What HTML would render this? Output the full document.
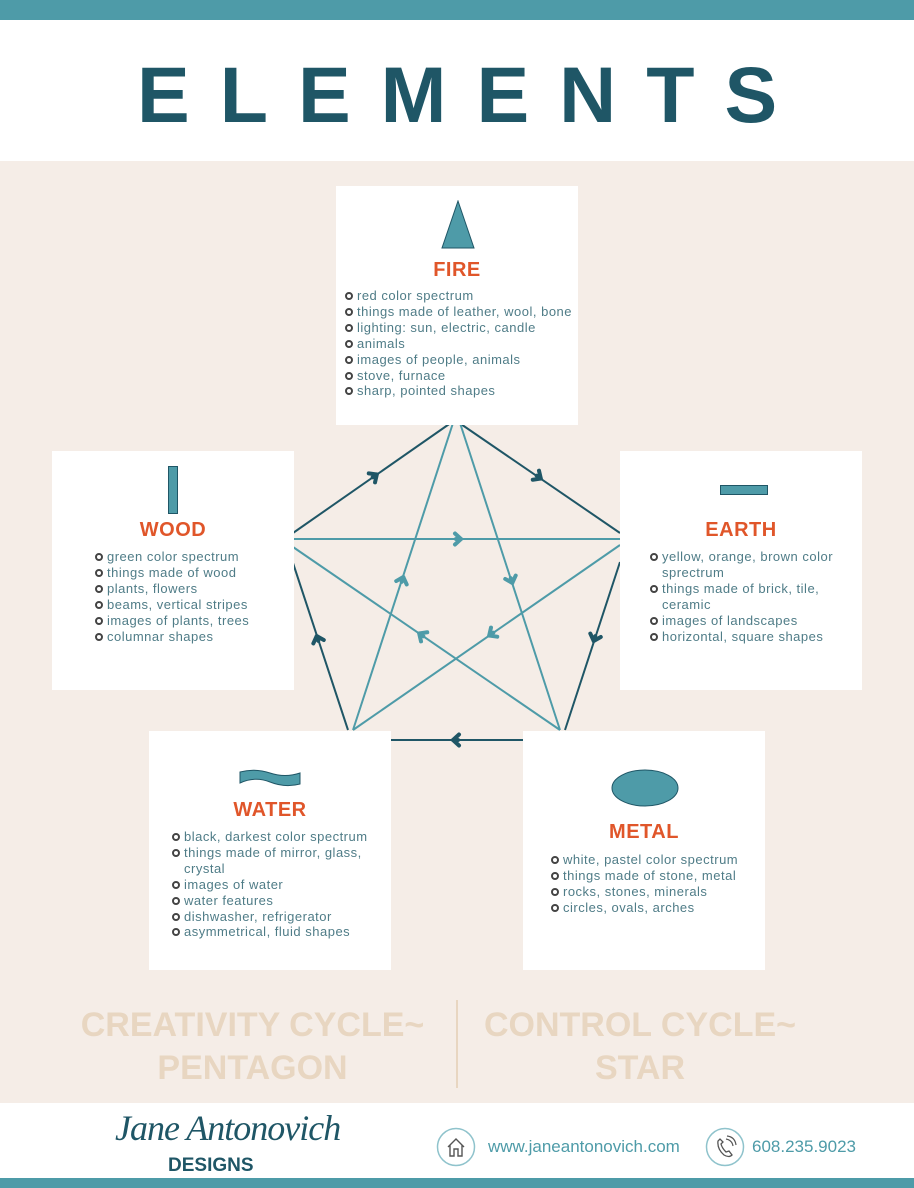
<!DOCTYPE html>
<html><head><meta charset="utf-8"><style>
*{margin:0;padding:0;box-sizing:border-box}
body{width:914px;height:1188px;position:relative;background:#f5ede7;font-family:"Liberation Sans",sans-serif;overflow:hidden}
.abs{position:absolute}
.card{position:absolute;background:#fff}
.t{position:absolute;font-weight:bold;font-size:20px;letter-spacing:0.5px;color:#e0562a;text-align:center;width:242px;left:0}
ul{position:absolute;list-style:none;font-size:13px;letter-spacing:0.5px;line-height:15.9px;color:#4f7c87}
li{position:relative;padding-left:11px;white-space:nowrap}
li:before{content:"";position:absolute;left:-1px;top:4px;width:4px;height:4px;border:2px solid #444;border-radius:50%;background:#fff}
.cy{position:absolute;color:#e8d6c1;font-weight:bold;font-size:34px;text-align:center;line-height:43px}
</style></head><body>
<div class="abs" style="left:0;top:0;width:914px;height:20px;background:#4e9ba8"></div>
<div class="abs" style="left:0;top:20px;width:914px;height:141px;background:#fff"></div>
<div class="abs" style="left:137px;top:40px;font-size:79px;font-weight:bold;color:#1f5666;letter-spacing:30px;line-height:110px;white-space:nowrap">ELEMENTS</div>

<svg class="abs" style="left:0;top:0" width="914" height="1188">
<g stroke="#1f5666" stroke-width="2" fill="none">
<line x1="455" y1="420" x2="620" y2="533"/><line x1="293" y1="533" x2="455" y2="420"/>
<line x1="620" y1="562" x2="565" y2="730"/><line x1="293" y1="563" x2="348" y2="730"/>
<line x1="565" y1="740" x2="350" y2="740"/>
</g>
<g stroke="#4e9ba8" stroke-width="2" fill="none">
<line x1="293" y1="539" x2="620" y2="539"/>
<line x1="460" y1="423" x2="560" y2="730"/><line x1="353" y1="730" x2="453" y2="423"/>
<line x1="293" y1="547" x2="560" y2="730"/><line x1="620" y1="545" x2="353" y2="730"/>
</g>
<g fill="none" stroke-width="4" stroke-linecap="round" stroke-linejoin="round">
<g stroke="#1f5666">
<path d="M-5,-5.5 L1,0 L-5,5.5 M-4,0 L1,0" transform="translate(540,478) rotate(34.4)"/>
<path d="M-5,-5.5 L1,0 L-5,5.5 M-4,0 L1,0" transform="translate(594,640) rotate(108.1)"/>
<path d="M-5,-5.5 L1,0 L-5,5.5 M-4,0 L1,0" transform="translate(454,740) rotate(180)"/>
<path d="M-5,-5.5 L1,0 L-5,5.5 M-4,0 L1,0" transform="translate(317,637) rotate(-108.2)"/>
<path d="M-5,-5.5 L1,0 L-5,5.5 M-4,0 L1,0" transform="translate(376,475) rotate(-34.9)"/>
</g>
<g stroke="#4e9ba8">
<path d="M-5,-5.5 L1,0 L-5,5.5 M-4,0 L1,0" transform="translate(460,539)"/>
<path d="M-5,-5.5 L1,0 L-5,5.5 M-4,0 L1,0" transform="translate(512,582) rotate(72)"/>
<path d="M-5,-5.5 L1,0 L-5,5.5 M-4,0 L1,0" transform="translate(420,634) rotate(-145.6)"/>
<path d="M-5,-5.5 L1,0 L-5,5.5 M-4,0 L1,0" transform="translate(490,635) rotate(145.3)"/>
<path d="M-5,-5.5 L1,0 L-5,5.5 M-4,0 L1,0" transform="translate(403,578) rotate(-72)"/>
</g>
</g>
</svg>

<div class="card" style="left:336px;top:186px;width:242px;height:239px">
<svg class="abs" style="left:104px;top:14px" width="36" height="50"><polygon points="18,1 34,48 2,48" fill="#4e9ba8" stroke="#1f5666" stroke-width="1"/></svg>
<div class="t" style="top:73px">FIRE</div>
<ul style="left:10px;top:102px"><li>red color spectrum</li><li>things made of leather, wool, bone</li><li>lighting: sun, electric, candle</li><li>animals</li><li>images of people, animals</li><li>stove, furnace</li><li>sharp, pointed shapes</li></ul>
</div>

<div class="card" style="left:52px;top:451px;width:242px;height:239px">
<div class="abs" style="left:116px;top:15px;width:10px;height:48px;background:#4e9ba8;border:1px solid #1f5666"></div>
<div class="t" style="top:68px">WOOD</div>
<ul style="left:44px;top:98px"><li>green color spectrum</li><li>things made of wood</li><li>plants, flowers</li><li>beams, vertical stripes</li><li>images of plants, trees</li><li>columnar shapes</li></ul>
</div>

<div class="card" style="left:620px;top:451px;width:242px;height:239px">
<div class="abs" style="left:100px;top:34px;width:48px;height:10px;background:#4e9ba8;border:1px solid #1f5666"></div>
<div class="t" style="top:68px">EARTH</div>
<ul style="left:31px;top:98px"><li>yellow, orange, brown color<br>sprectrum</li><li>things made of brick, tile,<br>ceramic</li><li>images of landscapes</li><li>horizontal, square shapes</li></ul>
</div>

<div class="card" style="left:149px;top:731px;width:242px;height:239px">
<svg class="abs" style="left:90px;top:38px" width="62" height="18"><path d="M1,3 Q16,-1 31,4 T61,4 L61,15 Q46,19 31,13 T1,14 Z" fill="#4e9ba8" stroke="#1f5666" stroke-width="1"/></svg>
<div class="t" style="top:68px">WATER</div>
<ul style="left:24px;top:98px"><li>black, darkest color spectrum</li><li>things made of mirror, glass,<br>crystal</li><li>images of water</li><li>water features</li><li>dishwasher, refrigerator</li><li>asymmetrical, fluid shapes</li></ul>
</div>

<div class="card" style="left:523px;top:731px;width:242px;height:239px">
<svg class="abs" style="left:88px;top:38px" width="68" height="38"><ellipse cx="34" cy="19" rx="33" ry="18" fill="#4e9ba8" stroke="#1f5666" stroke-width="1"/></svg>
<div class="t" style="top:90px">METAL</div>
<ul style="left:29px;top:121px"><li>white, pastel color spectrum</li><li>things made of stone, metal</li><li>rocks, stones, minerals</li><li>circles, ovals, arches</li></ul>
</div>

<div class="cy" style="left:40px;top:1004px;width:425px">CREATIVITY CYCLE~<br>PENTAGON</div>
<div class="abs" style="left:456px;top:1000px;width:2px;height:88px;background:#e8d6c1"></div>
<div class="cy" style="left:455px;top:1004px;width:370px">CONTROL CYCLE~<br>STAR</div>

<div class="abs" style="left:0;top:1103px;width:914px;height:75px;background:#fff"></div>
<div class="abs" style="left:0;top:1178px;width:914px;height:10px;background:#4e9ba8"></div>
<div class="abs" style="left:115px;top:1106px;font-family:'Liberation Serif',serif;font-style:italic;font-size:36px;color:#1f5666;letter-spacing:-1px;line-height:44px">Jane Antonovich</div>
<div class="abs" style="left:168px;top:1155px;font-weight:bold;font-size:19px;color:#1f5666;line-height:22px">DESIGNS</div>
<svg class="abs" style="left:436px;top:1127px" width="40" height="40"><circle cx="20" cy="20" r="18.5" fill="none" stroke="#8fc3cc" stroke-width="1.5"/><path d="M12,20 L20,12 L28,20 M14,18 V29 H18 V22 H22 V29 H26 V18" fill="none" stroke="#555" stroke-width="1.4"/></svg>
<div class="abs" style="left:488px;top:1137px;font-size:17px;color:#4e9ba8;line-height:20px">www.janeantonovich.com</div>
<svg class="abs" style="left:705px;top:1127px" width="40" height="40"><circle cx="20" cy="20" r="18.5" fill="none" stroke="#8fc3cc" stroke-width="1.5"/><path d="M13,14 Q12,22 19,28 Q24,31 27,28 L24,24 L21,25 Q17,21 16,17 L18,15 L15,12 Z" fill="none" stroke="#555" stroke-width="1.3"/><path d="M21,12 Q27,13 28,19 M22,9 Q30,10 31,18" fill="none" stroke="#555" stroke-width="1.2"/></svg>
<div class="abs" style="left:752px;top:1137px;font-size:17px;color:#4e9ba8;line-height:20px">608.235.9023</div>
</body></html>
